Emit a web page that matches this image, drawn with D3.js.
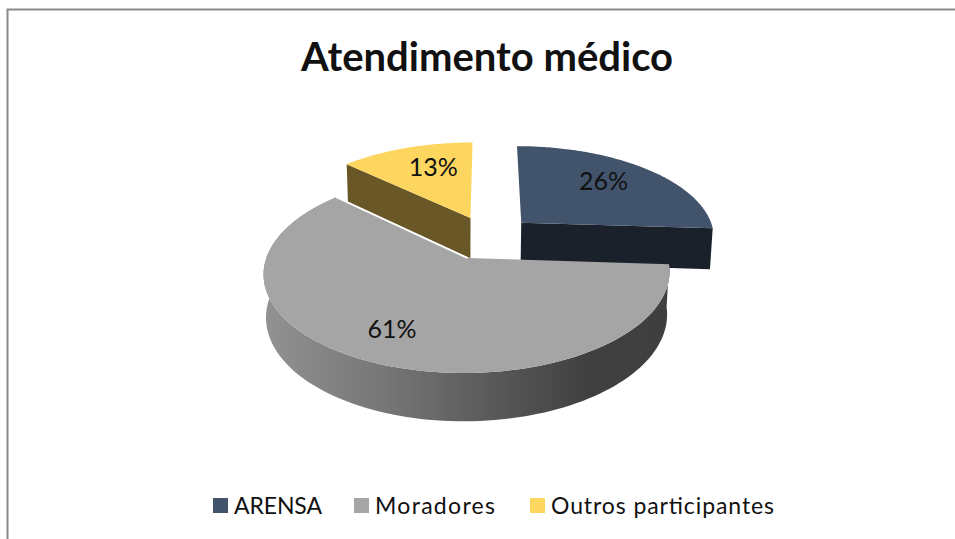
<!DOCTYPE html>
<html>
<head>
<meta charset="utf-8">
<script src="https://cdn.jsdelivr.net/npm/d3@7"></script>
<style>
    html, body { margin: 0; padding: 0; background: #fff; }
    svg { display: block; }
    text { font-family: Lato, "Open Sans", sans-serif; fill: #111; }
</style>
</head>
<body>
<svg id="chart" width="955" height="539"></svg>
<script>
const chartTitle = "Atendimento médico"
const categories = ["ARENSA", "Moradores", "Outros participantes"]
const percentages = [26, 61, 13]
const topColors = ["#42546c", "#a5a5a5", "#fdd660"]
const cutColors = ["#1a212b", "#777777", "#6a5727"]
const legendX = [213, 354, 530]
const legendTextWidth = [88, 120, 223]

// perspective of the pie plane, tuned by eye against the picture
const CENTER_X = 467, CENTER_Y = 258
const SCALE_U = 200.7, SKEW_U = -3, SCALE_V = 97.75
const TILT = 0.15, DEPTH = 43, DEPTH_TILT = 0.012
const EXPLODE = 0.238
const SIDE_SHIFT = 0.012
const LABEL_RADIUS = [0.69, 0.75, 0.58]
const LABEL_SHIFT = [[-5, -2], [-6, -3], [2, -7]]

const svg = d3.select("#chart")

function project(u, v, z) {
    let w = 1 - TILT * v + DEPTH_TILT * z
    return [CENTER_X + (SCALE_U * u + SKEW_U * v) / w, CENTER_Y + (SCALE_V * v + DEPTH * z) / w]
}

// angle 0 is 12 o'clock, clockwise; v grows toward the viewer
const unit = angle => [Math.sin(angle), -Math.cos(angle)]

const slices = d3.pie().sort(null).value(d => d)(percentages)
const midAngle = s => (s.startAngle + s.endAngle) / 2
const pivot = unit(midAngle(slices[1]))

slices.forEach(s => {
    let dir = unit(midAngle(s))
    s.offset = [EXPLODE * (dir[0] - pivot[0]) + (s.index === 1 ? 0 : SIDE_SHIFT), EXPLODE * (dir[1] - pivot[1])]
})

const toScreen = (s, angle, radius, z) => {
    let p = unit(angle)
    return project(s.offset[0] + radius * p[0], s.offset[1] + radius * p[1], z)
}

const arcPoints = (s, a0, a1, z) => d3.range(0, 121).map(i => toScreen(s, a0 + (a1 - a0) * i / 120, 1, z))
const line = d3.line()

const defs = svg.append("defs")
const wallGradient = defs.append("linearGradient")
    .attr("id", "wall")
    .attr("gradientUnits", "userSpaceOnUse")
    .attr("x1", 265).attr("x2", 670).attr("y1", 0).attr("y2", 0)
wallGradient.selectAll("stop")
    .data([[0, "#929292"], [0.3, "#767676"], [0.6, "#555555"], [0.8, "#404040"], [1, "#3f3f3f"]])
    .join("stop")
    .attr("offset", d => d[0])
    .attr("stop-color", d => d[1])

// frame, only top and left are visible in the crop
svg.append("path")
    .attr("d", "M7.5,539V9.5H955")
    .attr("fill", "none")
    .attr("stroke", "#8a8a8a")
    .attr("stroke-width", 2)

svg.append("text")
    .text(chartTitle)
    .attr("x", 487)
    .attr("y", 71)
    .attr("text-anchor", "middle")
    .style("font-size", "40px")
    .style("font-weight", 700)

function cutFace(s, angle, color) {
    svg.append("path")
        .attr("d", line([
            toScreen(s, 0, 0, 0), toScreen(s, angle, 1, 0),
            toScreen(s, angle, 1, 1), toScreen(s, 0, 0, 1)
        ]) + "Z")
        .attr("fill", color)
}

function topFace(s) {
    svg.append("path")
        .attr("d", line([toScreen(s, 0, 0, 0), ...arcPoints(s, s.startAngle, s.endAngle, 0)]) + "Z")
        .attr("fill", topColors[s.index])
}

// back to front: navy, yellow, then the big grey slice on top of both
cutFace(slices[0], slices[0].endAngle, cutColors[0])
topFace(slices[0])

cutFace(slices[2], slices[2].startAngle, cutColors[2])
topFace(slices[2])

let wallTop = arcPoints(slices[1], slices[1].startAngle, slices[1].endAngle, 0),
    wallBottom = arcPoints(slices[1], slices[1].startAngle, slices[1].endAngle, 1).reverse()

svg.append("path")
    .attr("d", line([...wallTop, ...wallBottom]) + "Z")
    .attr("fill", "url(#wall)")

topFace(slices[1])

svg.append("path")
    .attr("d", line([toScreen(slices[1], 0, 0, 0), toScreen(slices[1], slices[1].endAngle, 1, 0)]))
    .attr("stroke", "#fff")
    .attr("stroke-width", 1.5)

svg.append("g")
    .selectAll("text")
    .data(slices)
    .join("text")
    .text(d => d.data + "%")
    .attr("x", d => toScreen(d, midAngle(d), LABEL_RADIUS[d.index], 0)[0] + LABEL_SHIFT[d.index][0])
    .attr("y", d => toScreen(d, midAngle(d), LABEL_RADIUS[d.index], 0)[1] + 8 + LABEL_SHIFT[d.index][1])
    .attr("text-anchor", "middle")
    .style("font-size", "25px")

let legend = svg.append("g")
    .selectAll("g")
    .data(categories)
    .join("g")
    .attr("transform", (d, i) => `translate(${legendX[i]}, 0)`)

legend.append("rect")
    .attr("y", 498)
    .attr("width", 15)
    .attr("height", 15)
    .attr("fill", (d, i) => topColors[i])

legend.append("text")
    .text(d => d)
    .attr("x", 21)
    .attr("y", 514)
    .attr("textLength", (d, i) => legendTextWidth[i])
    .style("font-size", "23px")
</script>
</body>
</html>
